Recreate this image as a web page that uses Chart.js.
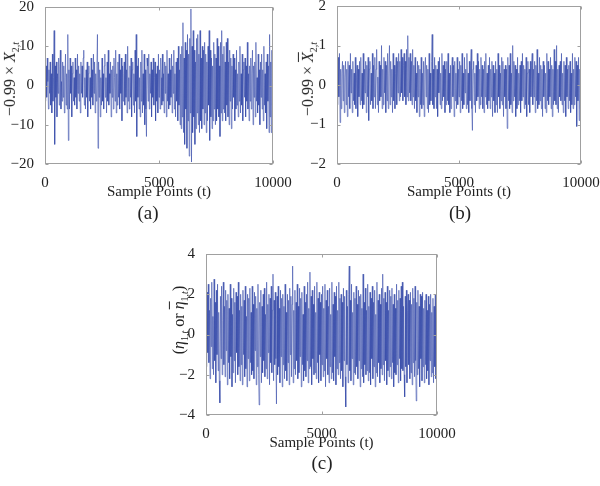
<!DOCTYPE html>
<html>
<head>
<meta charset="utf-8">
<script src="https://cdn.jsdelivr.net/npm/chart.js@4.4.1/dist/chart.umd.min.js"></script>
<style>
  html, body { margin:0; padding:0; width:600px; height:486px; overflow:hidden; background:#fff; }
  canvas { position:absolute; }
  .lbl { position:absolute; font-family:"Liberation Serif","DejaVu Serif",serif; color:#222; white-space:nowrap; }
  .ytitle { transform: translate(-50%,-50%) rotate(-90deg); font-size:16px; }
  .sub { transform: translate(-50%,-50%); font-size:19px; }
  .ob { text-decoration: overline; }
</style>
</head>
<body>
<canvas id="ca"></canvas>
<canvas id="cb"></canvas>
<canvas id="cc"></canvas>

<div class="lbl ytitle" style="left:11px;top:79px;">−0.99 × <i>X</i><sub style="font-size:10px">2,<i>t</i></sub></div>
<div class="lbl ytitle" style="left:309px;top:79px;">−0.99 × <i class="ob">X</i><sub style="font-size:10px">2,<i>t</i></sub></div>
<div class="lbl ytitle" style="left:180px;top:320px;">(<i>η</i><sub style="font-size:10px">1,<i>t</i></sub> or <i class="ob">η</i><sub style="font-size:10px">1,<i>t</i></sub>)</div>

<div class="lbl sub" style="left:148px;top:213px;">(a)</div>
<div class="lbl sub" style="left:460px;top:213px;">(b)</div>
<div class="lbl sub" style="left:322px;top:463px;">(c)</div>

<script>
// ---- data (one value every SAMPLE_STEP samples) ----
const SAMPLE_STEP = 25;
const xTickLabels = [0, 5000, 10000];
const yTicksA = [-20, -10, 0, 10, 20];
const yTicksB = [-2, -1, 0, 1, 2];
const yTicksC = [-4, -2, 0, 2, 4];
const xTitle = 'Sample Points (t)';

const seriesA = [
  2, -4, 5, -3, 7, 1, -6, 4, -2, 6, -5, 3, -7, 8, -4, 2, 14, -15, 5, -3,
  6, -8, 3, -2, 7, -5, 4, 9, -6, 1, -4, 6, -3, 5, -7, 2, 8, -5, 3, -6,
  13, -14, 4, -6, 7, -2, 5, -8, 3, 6, -4, 2, -5, 7, -3, 4, -6, 8, -2, 5,
  -4, 3, -7, 6, -2, 5, -3, 7, 9, -5, 2, -6, 4, -3, 6, -8, 3, 5, -4, 2,
  -6, 7, -3, 4, -5, 8, -2, 6, -7, 3, -4, 5, 13, -16, 6, -3, 4, -8, 2, -5,
  7, -4, 3, -6, 5, 8, -3, 2, -7, 6, -4, 9, -5, 3, -2, 6, -8, 4, -3, 5,
  -6, 7, 2, -4, 9, -7, 3, -5, 6, -3, 8, -6, 4, -2, 7, -9, 5, -4, 3, 6,
  -5, 8, -3, 4, -7, 10, -4, 2, -6, 5, -3, 7, -8, 4, 6, -5, 3, -7, 9, -4,
  13, -13, 5, -3, 7, -6, 2, -8, 6, -4, 9, -7, 3, -5, 8, -10, 4, -6, -13, 7,
  5, -4, 8, -6, 3, -2, 6, -8, 4, -3, 7, -5, 2, 6, -9, 3, -4, 5, -7, 8,
  -3, 4, -6, 7, 2, -5, 8, -4, 3, -7, 6, -2, 5, -8, 9, -4, 3, -6, 7, -5,
  4, -3, 8, -7, 5, -2, 9, -6, 3, -8, 6, -4, 7, -9, 10, -5, 4, -10, 8, -11,
  10, -8, 16, -12, 7, -15, 11, -6, 9, -16, 13, -9, 8, -18, 12, -7, 19.5, -19.5, 10, -12,
  14, -8, 9, -15, 6, -11, 12, -7, 13, -10, 8, -12, 14, -9, 7, -11, 10, -6, 9, -10,
  11, -7, 8, -12, 6, -9, 10, -5, 14, -14, 9, -8, 7, -11, 5, -9, 11, -6, 8, -10,
  7, -9, 12, -6, 10, -8, 5, -13, 11, -7, 14, -9, 8, -6, 10, -7, 6, -9, 11, -5,
  12, -8, 6, -10, 9, -4, 7, -11, 5, -6, 8, -3, 7, -9, 4, -6, 9, -5, 3, -8,
  6, -4, 10, -7, 3, -5, 8, -9, 4, 6, -3, 7, -8, 5, -4, 11, -6, 3, -9, 5,
  -4, 7, -6, 3, 9, -10, 5, -3, 6, -8, 11, -4, 2, -7, 8, -5, 4, -10, 6, -3,
  8, -6, 4, -9, 10, -5, 3, -7, 6, -11, 8, -4, 5, -12, 13, -8, 6, -12, 9, -5,
  3
];

const seriesB = [
  .2, -.5, .7, -.3, .8, -.95, .4, -.6, .3, .6, -.4, .5, -.7, .2, .6, -.5, .4, -.8, .6, -.3,
  .5, -.6, .8, -.2, .4, -.7, .6, -.4, .3, -.5, .7, -.6, .2, .5, -.8, .4, -.3, .6, -.5, .7,
  -.4, .3, -.6, .8, -.5, .4, -.2, .6, -.7, .5, -.3, .7, -.9, .4, .6, -.5, .3, -.4, .8, -.6,
  .5, -.3, .7, -.6, .4, .9, -.5, .2, -.7, .6, -.4, .5, -.3, 1.0, -.6, .4, -.5, .7, -.2, .6,
  -.7, .5, -.4, .8, -.6, .3, 1.0, -.5, .6, -.3, .4, -.7, .8, -.4, .5, -.6, .3, .7, -.5, .6,
  -.2, .8, -.4, .6, -.3, .9, -.2, .7, -.4, .5, .8, -.3, .6, -.5, .9, -.3, 1.25, -.4, .7, -.2,
  .8, -.4, .6, -.5, .9, -.3, .5, -.6, .7, -.4, .3, -.7, .6, -.3, .5, -.8, .4, -.5, .7, -.6,
  .3, -.5, .6, -.8, .4, .7, -.3, .5, -.6, .4, -.7, .8, -.5, .3, -.4, .6, 1.28, -.5, .4, -.6,
  .7, -.3, .5, -.6, .4, -.8, .6, -.2, .7, -.5, .3, -.6, .8, -.4, .5, -.3, .6, -.7, .4, -.5,
  .6, -.4, .8, -.5, .3, -.7, .5, -.6, .4, .7, -.3, .5, -.8, .6, -.4, .3, -.6, .7, -.5, .4,
  -.3, .6, -.7, .5, -.4, .8, -.6, .3, -.5, .7, -.2, .4, -.6, .8, -.5, .3, -.7, .6, -.4, .5,
  .9, -.6, -1.15, .4, .6, -.5, .3, -.7, .5, -.4, .8, -.3, .6, -.6, .4, -.5, .7, -.3, .5, -.6,
  .4, -.7, .6, -.3, .8, -.5, .3, -.6, .5, -.4, .7, -.6, .4, -.3, .6, -.8, .5, -.4, .3, -.7,
  .6, -.5, .4, -.7, .8, -.3, .5, -.6, .3, -.4, .7, -.5, .6, -.8, .4, -.3, .5, -.6, .4, -1.1,
  .7, -.4, .5, -.6, .8, -.5, .3, -.7, 1.0, -.4, .6, -.3, .5, -.8, .4, -.6, .7, -.5, .3, -.4,
  .5, -.7, .6, -.4, .8, -.3, .5, -.6, .4, -.5, .7, -.8, .3, .6, -.5, .4, -.7, .6, -.3, .5,
  .8, -.5, .4, -.3, .6, -.7, .5, -.4, .9, -.6, .3, -.5, .7, -.4, .5, -.6, .4, -.8, .6, -.3,
  .5, -.6, .3, -.7, .8, -.4, .6, -.5, .4, -.3, .7, -.6, .5, -.8, .4, -.5, .9, -.4, .6, -.5,
  1.0, -.6, .4, -.7, .5, -.3, .6, -.4, .8, -.5, .3, -.7, .6, -.4, .5, -.8, .7, -.3, .4, -.6,
  .5, -.4, .6, -.7, .3, -.5, .8, -.6, .4, -.5, .7, -.3, .6, -1.05, .5, -.4, .7, -.9, .4, -.6,
  .3
];

const seriesC = [
  .8, -1.6, 2.1, -.9, 2.5, -1.4, 1.2, -2.2, 1.8, -.6, 2.6, -1.7, .9, -2.0, 2.75, -1.3, 1.6, -2.4, 2.2, -1.0,
  2.5, -1.8, 1.1, -2.3, -3.4, 1.9, -1.2, 2.4, -2.0, .7, 2.6, -1.5, 1.4, -2.1, 2.2, -.8, 1.7, -2.5, 2.0, -1.4,
  1.3, -2.2, 2.5, -1.1, 1.8, -2.6, 1.0, -1.9, 2.3, -1.3, 1.6, -2.4, 2.1, -.9, 1.9, -2.0, 2.6, -1.6, 1.2, -2.3,
  2.0, -1.5, 1.4, -2.5, 2.2, -1.0, 1.7, -2.1, 2.4, -1.7, .9, -2.6, 2.0, -1.2, 1.8, -2.3, 2.3, -1.4, 1.1, -2.0,
  2.4, -1.8, 1.5, -2.2, 2.1, -.8, 1.9, -2.5, 1.3, -1.6, 2.5, -2.0, -3.5, 1.6, -1.1, 2.2, -2.4, 1.4, -1.9, 2.0,
  -1.3, 2.3, -2.1, 1.0, -1.7, 2.6, -2.2, 1.5, -.9, 2.0, -2.5, 1.8, -1.4, 2.4, -1.9, 1.2, 3.0, -2.3, 1.7, -1.5,
  2.1, -1.2, -3.45, 1.9, -2.0, 2.4, -1.6, 1.3, -2.4, 2.2, -1.1, 1.8, -2.6, 2.0, -1.5, 1.4, -2.2, 2.5, -1.8, 1.1,
  -2.3, 2.0, -1.4, 1.7, -2.5, 2.3, -1.0, 1.9, -2.1, 1.5, 3.4, -2.4, 1.2, -1.7, 2.2, -2.0, 1.6, -1.3, 2.5, -2.2,
  1.4, -1.9, 2.3, -1.1, 1.8, -2.6, 2.1, -1.5, 1.0, -2.3, 2.4, -1.8, 1.6, -2.1, 2.0, -1.3, 2.6, -2.4, 1.3, -1.7,
  3.1, -1.6, 1.9, -2.5, 2.2, -1.2, 1.5, -2.0, 2.4, -1.9, 1.1, -2.2, 2.6, -1.4, 1.8, -2.4, 2.1, -1.0, 1.6, -2.3,
  2.0, -1.5, 2.4, -2.1, 1.3, -1.8, 2.5, -2.6, 1.7, -1.2, 2.2, -2.0, 1.4, -2.4, 2.3, -1.6, 1.0, -2.2, 2.6, -1.9,
  1.5, -2.3, 2.1, -1.1, 1.9, -2.5, 2.4, -1.7, 1.2, -2.0, 2.6, -1.4, 1.8, -2.2, 2.0, -1.8, 1.6, -2.6, 2.3, -1.3,
  1.9, -2.1, -3.6, 2.2, -1.5, 1.4, -2.4, 2.0, 3.4, -1.8, 1.7, -2.3, 2.5, -1.2, 1.1, -2.5, 2.1, -1.9, 1.8, -2.0,
  2.4, -1.6, 1.5, -2.2, 2.2, -1.3, 1.9, -2.6, 2.0, -1.7, 1.3, -2.1, 3.0, -2.4, 1.6, -1.5, 2.3, -2.0, 1.2, -1.8,
  2.5, -2.3, 1.4, -1.9, 2.1, -2.5, 1.8, -1.2, 2.4, -2.2, 1.6, -1.6, 2.2, -2.6, 1.0, -1.9, 2.6, -2.1, 1.7, -1.4,
  2.0, -2.4, 1.5, -1.7, 2.3, -2.0, 3.0, -1.5, 1.8, -2.3, 2.1, -1.3, 1.6, -2.5, 2.4, -1.8, 1.2, -2.1, 2.2, -1.6,
  1.9, -2.2, 2.3, -1.4, 1.5, -2.6, 2.0, -1.9, 1.3, -2.0, 2.5, -1.5, 1.7, -2.4, 2.2, -1.2, 1.8, -2.3, 2.4, -1.7,
  2.6, -1.8, 1.4, -2.0, -3.1, 1.9, -1.6, 2.2, -2.4, 1.2, 2.0, -1.5, 1.7, -2.2, 2.1, -1.9, 1.5, -2.5, 2.3, -1.4,
  1.8, -2.1, 2.4, -1.3, -3.3, 1.6, -2.0, 2.2, -1.7, 1.4, -2.6, 2.0, -1.2, 1.9, -2.3, 2.1, -1.6, 1.3, -2.4, 1.7,
  -1.5, 2.0, -2.2, 1.2, -1.8, 1.9, -2.5, 1.5, -1.3, 2.0, -2.1, 1.1, -1.9, 1.8, -2.4, 1.4, -1.6, 2.0, -2.2, 1.6,
  .5
];

// ---- drawing ----
const FONT = { family: '"Liberation Serif", "DejaVu Serif", serif', size: 15 };
const LINE_COLOR = 'rgba(50,72,168,0.72)';
const FRAME_COLOR = '#a0a0a0';
const PAD_L = 55, PAD_T = 27, PAD_R = 37, AX_H = 40;

const framePlugin = {
  id: 'frame',
  afterDraw(chart) {
    const { ctx, chartArea: a, scales: { x, y } } = chart;
    ctx.save();
    ctx.strokeStyle = FRAME_COLOR;
    ctx.lineWidth = 1;
    const L = Math.round(a.left) + 0.5, R = Math.round(a.right) - 0.5;
    const T = Math.round(a.top) + 0.5, B = Math.round(a.bottom) - 0.5;
    ctx.strokeRect(L, T, R - L, B - T);
    ctx.beginPath();
    y.ticks.forEach(t => {
      const py = Math.round(y.getPixelForValue(t.value)) + 0.5;
      ctx.moveTo(L, py); ctx.lineTo(L + 3, py);
      ctx.moveTo(R, py); ctx.lineTo(R - 3, py);
    });
    x.ticks.forEach(t => {
      const px = Math.round(x.getPixelForValue(t.value)) + 0.5;
      ctx.moveTo(px, B); ctx.lineTo(px, B - 3);
      ctx.moveTo(px, T); ctx.lineTo(px, T + 3);
    });
    ctx.stroke();
    ctx.restore();
  }
};

function fmt(v) { return v < 0 ? '\u2212' + Math.abs(v) : String(v); }

function build(id, area, values, yTicks) {
  const cv = document.getElementById(id);
  const w = (area.r - area.l) + PAD_L + PAD_R;
  const h = (area.b - area.t) + PAD_T + AX_H;
  cv.width = w; cv.height = h;
  cv.style.left = (area.l - PAD_L) + 'px';
  cv.style.top = (area.t - PAD_T) + 'px';
  cv.style.width = w + 'px'; cv.style.height = h + 'px';
  const yMin = yTicks[0], yMax = yTicks[yTicks.length - 1];
  return new Chart(cv, {
    type: 'line',
    data: {
      datasets: [{
        data: values.map((v, i) => ({ x: i * SAMPLE_STEP, y: v })),
        borderColor: LINE_COLOR,
        borderWidth: 0.8,
        pointRadius: 0,
        tension: 0,
        fill: false
      }]
    },
    options: {
      responsive: false,
      animation: false,
      events: [],
      layout: { padding: { left: 0, top: PAD_T, right: PAD_R, bottom: 0 } },
      plugins: { legend: { display: false }, tooltip: { enabled: false } },
      scales: {
        x: {
          type: 'linear',
          min: xTickLabels[0], max: xTickLabels[xTickLabels.length - 1],
          afterBuildTicks: s => { s.ticks = xTickLabels.map(v => ({ value: v })); },
          afterFit: s => { s.height = AX_H; },
          grid: { display: false },
          border: { display: false },
          ticks: { font: FONT, color: '#222', padding: 2, maxRotation: 0, autoSkip: false, callback: v => fmt(v) },
          title: { display: true, text: xTitle, font: FONT, color: '#222', padding: { top: 0, bottom: 2.5 } }
        },
        y: {
          type: 'linear',
          min: yMin, max: yMax,
          afterBuildTicks: s => { s.ticks = yTicks.map(v => ({ value: v })); },
          afterFit: s => { s.width = PAD_L; },
          grid: { display: false },
          border: { display: false },
          ticks: { font: FONT, color: '#222', padding: 3, autoSkip: false, callback: v => fmt(v) }
        }
      }
    },
    plugins: [framePlugin]
  });
}

build('ca', { l: 45, r: 273, t: 7, b: 164 }, seriesA, yTicksA);
build('cb', { l: 337, r: 581, t: 6, b: 164 }, seriesB, yTicksB);
build('cc', { l: 206, r: 437, t: 254, b: 415 }, seriesC, yTicksC);
</script>
</body>
</html>
